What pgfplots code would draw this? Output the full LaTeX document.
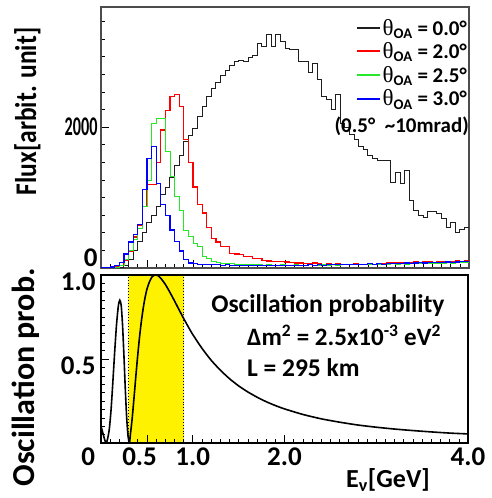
\documentclass[border=0pt]{standalone}
\usepackage{fontspec}
\setmainfont{Carlito}
\newfontfamily\serifgr{Liberation Serif}
\usepackage{pgfplots}
\usepackage{pgfplotstable}
\pgfplotsset{compat=1.18}
\definecolor{hred}{RGB}{255,0,0}
\definecolor{hgreen}{RGB}{40,230,40}
\definecolor{hblue}{RGB}{0,0,255}
\definecolor{hblack}{RGB}{30,30,30}

\pgfplotstableread{
x y
0.00 0
0.05 0
0.10 0
0.15 5
0.20 10
0.25 40
0.30 120
0.35 250
0.40 370
0.45 500
0.50 640
0.55 750
0.60 870
0.65 1040
0.70 1150
0.75 1290
0.80 1450
0.85 1600
0.90 1800
0.95 1880
1.00 1980
1.05 2150
1.10 2300
1.15 2440
1.20 2550
1.25 2640
1.30 2740
1.35 2810
1.40 2880
1.45 2930
1.50 2950
1.55 2930
1.60 2990
1.65 3020
1.70 3190
1.75 3140
1.80 3310
1.85 3140
1.90 3310
1.95 3210
2.00 3120
2.05 3100
2.10 3100
2.15 2930
2.20 2930
2.25 2780
2.30 2900
2.35 2670
2.40 2430
2.45 2390
2.50 2250
2.55 2460
2.60 2050
2.65 1990
2.70 1890
2.75 1820
2.80 1720
2.85 1680
2.90 1600
2.95 1550
3.00 1530
3.05 1530
3.10 1530
3.15 1220
3.20 1360
3.25 1200
3.30 1390
3.35 965
3.40 820
3.45 750
3.50 710
3.55 800
3.60 800
3.65 780
3.70 700
3.75 580
3.80 640
3.85 500
3.90 540
3.95 580
4.00 580
}\blackdata

\pgfplotstableread{
x y
0.00 0
0.05 0
0.10 5
0.15 15
0.20 40
0.25 110
0.30 240
0.35 440
0.40 600
0.45 870
0.50 1180
0.55 1180
0.60 1500
0.65 1960
0.70 2240
0.75 2440
0.80 2460
0.85 2290
0.90 1820
0.95 1500
1.00 1150
1.05 900
1.10 780
1.15 570
1.20 420
1.25 370
1.30 300
1.35 300
1.40 210
1.45 200
1.50 190
1.55 160
1.60 160
1.65 140
1.70 130
1.75 110
1.80 100
1.85 95
1.90 90
1.95 90
2.00 85
2.05 80
2.10 70
2.15 70
2.20 60
2.25 60
2.30 70
2.35 60
2.40 55
2.45 60
2.50 55
2.55 60
2.60 50
2.65 55
2.70 50
2.75 60
2.80 55
2.85 50
2.90 60
2.95 55
3.00 65
3.05 60
3.10 70
3.15 75
3.20 70
3.25 80
3.30 75
3.35 80
3.40 85
3.45 80
3.50 90
3.55 85
3.60 80
3.65 90
3.70 85
3.75 95
3.80 90
3.85 100
3.90 95
3.95 105
4.00 105
}\reddata

\pgfplotstableread{
x y
0.00 0
0.05 0
0.10 5
0.15 15
0.20 40
0.25 120
0.30 250
0.35 400
0.40 560
0.45 870
0.50 1250
0.55 2060
0.60 2130
0.65 2130
0.70 1650
0.75 1300
0.80 1010
0.85 820
0.90 540
0.95 450
1.00 350
1.05 300
1.10 160
1.15 140
1.20 100
1.25 80
1.30 70
1.35 60
1.40 60
1.45 55
1.50 50
1.55 50
1.60 45
1.65 50
1.70 45
1.75 40
1.80 45
1.85 40
1.90 40
1.95 45
2.00 40
2.05 40
2.10 45
2.15 40
2.20 40
2.25 45
2.30 40
2.35 40
2.40 45
2.45 40
2.50 45
2.55 40
2.60 45
2.65 50
2.70 45
2.75 50
2.80 45
2.85 50
2.90 55
2.95 50
3.00 55
3.05 50
3.10 55
3.15 60
3.20 55
3.25 60
3.30 55
3.35 60
3.40 65
3.45 60
3.50 65
3.55 60
3.60 70
3.65 65
3.70 70
3.75 75
3.80 70
3.85 80
3.90 75
3.95 80
4.00 80
}\greendata

\pgfplotstableread{
x y
0.00 0
0.05 5
0.10 15
0.15 40
0.20 80
0.25 200
0.30 370
0.35 480
0.40 620
0.45 1110
0.50 1560
0.55 1720
0.60 1200
0.65 900
0.70 740
0.75 540
0.80 380
0.85 240
0.90 120
0.95 70
1.00 60
1.05 55
1.10 50
1.15 50
1.20 45
1.25 45
1.30 40
1.35 45
1.40 40
1.45 40
1.50 40
1.55 35
1.60 40
1.65 35
1.70 40
1.75 35
1.80 40
1.85 35
1.90 40
1.95 40
2.00 35
2.05 40
2.10 35
2.15 40
2.20 40
2.25 45
2.30 40
2.35 45
2.40 40
2.45 45
2.50 45
2.55 50
2.60 45
2.65 50
2.70 50
2.75 55
2.80 50
2.85 55
2.90 60
2.95 55
3.00 60
3.05 55
3.10 60
3.15 65
3.20 60
3.25 65
3.30 70
3.35 65
3.40 70
3.45 75
3.50 70
3.55 75
3.60 80
3.65 75
3.70 80
3.75 85
3.80 80
3.85 85
3.90 90
3.95 90
4.00 90
}\bluedata

\pgfplotstableread{
x y
0.00 0.10
0.02 0.06
0.04 0.02
0.055 0.0
0.07 0.02
0.09 0.08
0.11 0.20
0.13 0.37
0.15 0.55
0.17 0.71
0.19 0.82
0.205 0.85
0.22 0.82
0.235 0.70
0.25 0.52
0.265 0.32
0.28 0.15
0.295 0.04
0.31 0.0
0.32 0.048
0.34 0.147
0.36 0.270
0.38 0.398
0.40 0.520
0.42 0.630
0.44 0.724
0.46 0.802
0.48 0.865
0.50 0.914
0.525 0.955
0.55 0.984
0.575 0.997
0.60 1.000
0.625 0.995
0.65 0.982
0.70 0.945
0.75 0.898
0.80 0.847
0.85 0.794
0.90 0.742
0.95 0.693
1.00 0.646
1.10 0.564
1.20 0.493
1.30 0.434
1.40 0.383
1.50 0.340
1.60 0.304
1.70 0.273
1.80 0.246
1.90 0.223
2.00 0.203
2.20 0.170
2.40 0.144
2.60 0.124
2.80 0.107
3.00 0.094
3.20 0.083
3.40 0.074
3.60 0.066
3.80 0.059
4.00 0.054
}\oscdata

\newcommand{\thOA}{{\serifgr\mdseries\fontsize{23}{23}\selectfont θ}\textsubscript{OA}}

\begin{document}
\begin{tikzpicture}
\pgfplotsset{
  every axis/.append style={
    scale only axis, xmin=0, xmax=4,
    tick align=inside, xtick pos=bottom, ytick pos=left,
    major tick length=8pt, minor tick length=4pt,
    every tick/.style={black, line width=0.6pt},
    /pgf/number format/assume math mode=true,
    tick label style={font=\fontsize{27}{30}\selectfont\bfseries},
    xtick={0,0.5,1,2,4},
    minor xtick={0.1,0.2,0.3,0.4,0.6,0.7,0.8,0.9,1.1,1.2,1.3,1.4,1.5,1.6,1.7,1.8,1.9,2.1,2.2,2.3,2.4,2.5,2.6,2.7,2.8,2.9,3,3.1,3.2,3.3,3.4,3.5,3.6,3.7,3.8,3.9},
  }
}
% bottom panel
\begin{axis}[
  at={(0,0)}, anchor=south west,
  width=367pt, height=168pt,
  ymin=0, ymax=1.0,
  ytick={0.5,1.0}, yticklabels={0.5,1.0},
  minor ytick={0.05,0.1,0.15,0.2,0.25,0.3,0.35,0.4,0.45,0.55,0.6,0.65,0.7,0.75,0.8,0.85,0.9,0.95},
  yticklabel style={yshift=-7pt, xshift=-2pt},
  xticklabels={\makebox[0pt][r]{0\hspace{6pt}},\makebox[0pt][r]{0.5\hspace{-10pt}},1.0,2.0,4.0},
  xticklabel style={yshift=-1pt},
  axis on top,
  axis line style={line width=1.6pt, black},
  every axis y label/.style={at={(axis description cs:-0.205,0.39)}, rotate=90, anchor=center, font=\fontsize{32}{36}\selectfont\bfseries},
  every axis x label/.style={at={(axis description cs:0.782,-0.22)}, anchor=center, font=\fontsize{26}{30}\selectfont\bfseries},
  ylabel={Oscillation prob.},
  xlabel={E\textsubscript{ν}[GeV]},
]
\addplot[fill=yellow, draw=none] coordinates {(0.298,0) (0.298,1) (0.904,1) (0.904,0)} \closedcycle;
\addplot[black, dotted, line width=0.9pt] coordinates {(0.298,0) (0.298,1)};
\addplot[black, dotted, line width=0.9pt] coordinates {(0.904,0) (0.904,1)};
\addplot[black, line width=1.6pt, smooth, tension=0.4] table[x=x,y=y] {\oscdata};
\node[anchor=west, inner sep=0pt, font=\fontsize{25.5}{27}\selectfont\bfseries] at (axis cs:1.20,0.82) {Oscillation probability};
\node[anchor=west, inner sep=0pt, font=\fontsize{25}{27}\selectfont\bfseries] at (axis cs:1.59,0.64) {Δm\textsuperscript{2} = 2.5x10\textsuperscript{-3} eV\textsuperscript{2}};
\node[anchor=west, inner sep=0pt, font=\fontsize{25.5}{27}\selectfont\bfseries] at (axis cs:1.59,0.446) {L = 295 km};
\end{axis}
% top panel
\begin{axis}[
  at={(0,175pt)}, anchor=south west,
  width=368pt, height=261pt,
  ymin=0, ymax=3706,
  ytick={0,2000}, yticklabels={\raisebox{1pt}[0pt][0pt]{0},\scalebox{0.6}[1]{2000}},
  minor ytick={250,500,750,1000,1250,1500,1750,2250,2500,2750,3000,3250,3500},
  xticklabels={},
  axis line style={line width=1.4pt, black!70},
  every axis y label/.style={at={(axis description cs:-0.20,0.60)}, rotate=90, anchor=center, font=\fontsize{30}{34}\selectfont\bfseries},
  ylabel={\scalebox{0.85}[1]{Flux[arbit. unit]}},
  legend style={at={(axis description cs:1,0.962)}, anchor=north east, draw=none, fill=none,
    inner sep=0pt, row sep=2pt, font=\fontsize{21}{24}\selectfont\bfseries,
    /tikz/every even column/.append style={column sep=9pt}},
  legend cell align=left,
  legend image code/.code={\draw[#1] (0pt,0pt) -- (23pt,0pt);},
]
\addplot[hblack, line width=1.0pt, const plot, forget plot] table[x=x,y=y] {\blackdata};
\addplot[hred, line width=1.2pt, const plot, forget plot] table[x=x,y=y] {\reddata};
\addplot[hgreen, line width=0.8pt, const plot, forget plot] table[x=x,y=y] {\greendata};
\addplot[hblue, line width=1.2pt, const plot, forget plot] table[x=x,y=y] {\bluedata};
\addlegendimage{draw=hblack, line width=2pt}
\addlegendentry{\thOA{} = 0.0°}
\addlegendimage{draw=hred, line width=2pt}
\addlegendentry{\thOA{} = 2.0°}
\addlegendimage{draw=hgreen, line width=2pt}
\addlegendentry{\thOA{} = 2.5°}
\addlegendimage{draw=hblue, line width=2pt}
\addlegendentry{\thOA{} = 3.0°}
\node[anchor=east, inner sep=0pt, font=\fontsize{21}{24}\selectfont\bfseries] at (axis cs:4.0,2010) {(0.5°\ \ \textasciitilde10mrad)};
\end{axis}
\pgfresetboundingbox
\useasboundingbox (-101pt,-55pt) rectangle (390pt,443pt);
\end{tikzpicture}
\end{document}
